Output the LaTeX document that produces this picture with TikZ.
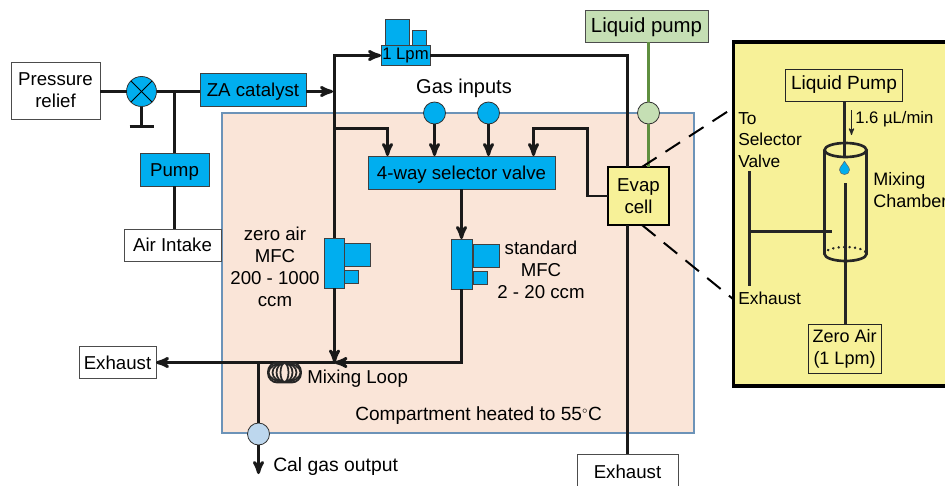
\documentclass[tikz,border=0pt]{standalone}
\usepackage{fontspec}
\setmainfont{Liberation Sans}
\usetikzlibrary{arrows,positioning}
\definecolor{valveblue}{HTML}{00AEEF}
\definecolor{heatpeach}{HTML}{FAE5D8}
\definecolor{heatedge}{HTML}{6C93B8}
\definecolor{cellyellow}{HTML}{F7F198}
\definecolor{pumpgreen}{HTML}{C5DFB4}
\definecolor{linegreen}{HTML}{5F8F3F}
\definecolor{outblue}{HTML}{BDD7EE}
\tikzset{>=stealth',
	sized/.style 2 args={minimum width=#1*0.75pt,minimum height=#2*0.75pt,inner sep=0pt,outer sep=0pt,align=center,font=\fontsize{14}{16.5}\selectfont},
	oneline/.style={text height=13pt,text depth=3pt},
	whitebox/.style={draw=black!70,line width=0.6pt,fill=white},
	bluebox/.style={draw=black!75,line width=0.6pt,fill=valveblue},
	panelbox/.style={draw=black!85,line width=0.7pt,fill=cellyellow},
	port/.style={circle,draw=black!80,line width=0.6pt,minimum size=16.5pt,inner sep=0pt,outer sep=0pt},
	pipe/.style={line width=2.2pt,black!90},
	inner/.style={line width=2pt,black!85},
	label/.style={font=\fontsize{14}{16.5}\selectfont,inner sep=0pt,align=center},
	smalllabel/.style={font=\fontsize{13}{16.2}\selectfont,inner sep=0pt,align=left},
}
\begin{document}
\begin{tikzpicture}[x=0.75pt,y=-0.75pt]
	\useasboundingbox (0,0) rectangle (945,485);
	% heated compartment and zoomed panel
	\node (heated) [sized={472}{320},draw=heatedge,line width=0.8pt,fill=heatpeach] at (458,273) {};
	\begin{scope}
		\clip (0,0) rectangle (945,485);
		\node (panel) [sized={240}{344},draw=black,line width=2.9pt,fill=cellyellow] at (853.5,214) {};
	\end{scope}
	% boxes
	\node (relief) [sized={89}{57},whitebox] at (55.5,90.5) {Pressure\\relief};
	\node (selvalve) [port,minimum size=22.5pt,fill=valveblue] at (141.5,91.5) {};
	\node (catalyst) [sized={106}{33},bluebox,oneline] at (253,89.5) {ZA catalyst};
	\node (pump) [sized={69}{33},bluebox,oneline] at (174.5,169.5) {Pump};
	\node (intake) [sized={97}{32},whitebox] at (172.5,245) {Air Intake};
	\node (lpm) [sized={49}{20},bluebox,font=\fontsize{12.5}{15}\selectfont] at (405.5,55.5) {1 Lpm};
	\node (lpmbig) [sized={24}{26},bluebox] at (397,32) {};
	\node (lpmsmall) [sized={14}{15},bluebox] at (419,37.5) {};
	\node (liquid) [sized={123}{32},draw=black!70,line width=0.7pt,fill=pumpgreen,oneline,font=\fontsize{15.3}{18}\selectfont] at (646.5,26) {Liquid pump};
	\node (fourway) [sized={187}{33},bluebox,oneline] at (461.5,172.5) {4-way selector valve};
	\node (evap) [sized={61}{58},draw=black,line width=1.5pt,fill=cellyellow] at (638.5,196) {Evap\\cell};
	\node (gasa) [port,fill=valveblue] at (434.5,113) {};
	\node (gasb) [port,fill=valveblue] at (488.5,113) {};
	\node (liqport) [port,fill=pumpgreen] at (648.5,113) {};
	\node (calport) [port,fill=outblue] at (258.5,434) {};
	\node (exhleft) [sized={77}{32},whitebox] at (117.5,362.5) {Exhaust};
	\node (exhbot) [sized={101}{36},whitebox] at (627.5,472) {Exhaust};
	% flow controllers
	\node (zerobig) [sized={26}{23},bluebox] at (357,254.5) {};
	\node (zerosmall) [sized={14}{13},bluebox] at (351,276.5) {};
	\node (zeromfc) [sized={20}{50},bluebox] at (334.5,263) {};
	\node (stdbig) [sized={26}{23},bluebox] at (486,255.5) {};
	\node (stdsmall) [sized={14}{13},bluebox] at (480,277.5) {};
	\node (stdmfc) [sized={21}{50},bluebox] at (461.5,264) {};
	% helper points
	\coordinate (zaend) at (333,91.5);
	\coordinate (branch) at (334.5,128.5);
	\coordinate (inleft) at (387.5,156);
	\coordinate (inright) at (533.5,156);
	\coordinate (mix) at (334.5,362.5);
	\coordinate (stopper) at (141.5,126.5);
	\coordinate (calend) at (258.5,474);
	\coordinate (evapturn) at (587.5,128.5);
	% connectors
	\draw[pipe] (relief.east |- selvalve) -- (selvalve.west);
	\draw[pipe] (selvalve.east) -- (catalyst.west |- selvalve);
	\draw[pipe] (selvalve.south) -- (stopper);
	\draw[pipe] ([xshift=-9pt]stopper) -- ([xshift=9pt]stopper);
	\draw[line width=0.7pt] (selvalve.north west) -- (selvalve.south east);
	\draw[line width=0.7pt] (selvalve.north east) -- (selvalve.south west);
	\draw[pipe] (pump.north) -- (pump.north |- selvalve);
	\draw[pipe] (pump.south) -- (intake.north -| pump.south);
	\draw[pipe,->] (catalyst.east |- zaend) -- (zaend);
	\draw[pipe,->] (zeromfc.north) |- (lpm.west);
	\draw[pipe] (lpm.east) -| (evap.north -| exhbot.north);
	\draw[pipe] (evap.south -| exhbot.north) -- (exhbot.north);
	\draw[pipe,->] (branch) -| (inleft);
	\draw[line width=2.2pt,linegreen] (liquid.south -| liqport) -- (liqport.north);
	\draw[line width=2.2pt,linegreen] (liqport.south) -- (evap.north -| liqport);
	\draw[pipe,->] (gasa.south) -- (gasa |- fourway.north);
	\draw[pipe,->] (gasb.south) -- (gasb |- fourway.north);
	\draw[pipe,->] (evap.west) -| (evapturn) -| (inright);
	\draw[pipe,->] (fourway.south) -- (fourway.south |- stdmfc.north);
	\draw[pipe,->] (zeromfc.south) -- (mix);
	\draw[pipe,->] (stdmfc.south) |- (mix);
	\draw[pipe,->] (mix) -- (exhleft.east);
	\draw[pipe] (calport |- mix) -- (calport.north);
	\draw[pipe,->] (calport.south) -- (calend);
	% mixing loop
	\foreach \coil in {4,8,12,16}
		\draw[line width=1.3pt,black!85] (284.5,372.5) ellipse [x radius=\coil,y radius=9.5];
	\draw[line width=1.4pt,black!85,rounded corners=7pt] (268,362.5) rectangle (301,382.5);
	% dashed lines out to the panel
	\coordinate (evaptop) at (642,167);
	\coordinate (evapbot) at (642,225);
	\coordinate (paneltop) at (733,108);
	\coordinate (panelbot) at (733,299);
	\draw[line width=1.5pt,dashed,dash pattern=on 13pt off 8pt] (evaptop) -- (paneltop);
	\draw[line width=1.5pt,dashed,dash pattern=on 13pt off 8pt] (evapbot) -- (panelbot);
	% labels
	\node (gaslabel) [label,font=\fontsize{15}{18}\selectfont] at (464,88) {Gas inputs};
	\node (zerolabel) [label] at (275,267) {zero air\\MFC\\200 - 1000\\ccm};
	\node (stdlabel) [label] at (541,270) {standard\\MFC\\2 - 20 ccm};
	\node (looplabel) [label,anchor=west] at (307,379) {Mixing Loop};
	\node (heatlabel) [label,font=\fontsize{14.3}{17}\selectfont,anchor=west] at (355,416) {Compartment heated to 55$^{\scriptscriptstyle\circ}$C};
	\node (callabel) [label,font=\fontsize{14.5}{17}\selectfont,anchor=west] at (273,466) {Cal gas output};
	% inside the panel
	\node (panelpump) [sized={117}{32},panelbox,font=\fontsize{14.3}{17}\selectfont] at (844,85) {Liquid Pump};
	\node (panelzero) [sized={73}{49},panelbox,font=\fontsize{13.5}{16.5}\selectfont] at (844.5,348.5) {Zero Air\\(1 Lpm)};
	\coordinate (chtop) at (845.5,150);
	\coordinate (tubein) at (844.5,158);
	\coordinate (tubeup) at (845.5,183);
	\coordinate (sidein) at (832,231.5);
	\coordinate (sidetop) at (749.5,171);
	\coordinate (sidebot) at (749.5,286);
	\coordinate (sidemid) at (749.5,231.5);
	\draw[inner] (chtop) ellipse [x radius=21,y radius=7];
	\draw[inner] (824.5,150) -- (824.5,254) arc [start angle=180,end angle=0,x radius=21,y radius=7] -- (866.5,150);
	\draw[inner,line cap=round,dash pattern=on 0.1pt off 4pt] (824.5,254) arc [start angle=180,end angle=360,x radius=21,y radius=7];
	\draw[inner] (panelpump.south -| tubein) -- (tubein);
	\fill[valveblue,draw=black!60,line width=0.4pt] (844.5,161) .. controls (846.5,165) and (849.5,167) .. (849.5,170) .. controls (849.5,176) and (839.5,176) .. (839.5,170) .. controls (839.5,167) and (842.5,165) .. (844.5,161);
	\draw[inner] (tubeup) -- (panelzero.north -| tubeup);
	\draw[inner] (sidetop) -- (sidebot);
	\draw[line width=1.6pt,black!85] (sidemid) -- (sidein);
	\coordinate (dosetop) at (851.5,110);
	\coordinate (doseend) at (851.5,135);
	\draw[line width=0.8pt,->,black!85] (dosetop) -- (doseend);
	\node (doselabel) [smalllabel,font=\fontsize{12.5}{16.2}\selectfont,anchor=west] at (855,119) {1.6 µL/min};
	\node (tolabel) [smalllabel,anchor=north west] at (738,112) {To\\Selector\\Valve};
	\node (exhlabel) [smalllabel,anchor=west] at (738,298) {Exhaust};
	\node (chamberlabel) [label,font=\fontsize{13.5}{16.5}\selectfont,align=left,anchor=west] at (873,190) {Mixing\\Chamber};
\end{tikzpicture}
\end{document}
